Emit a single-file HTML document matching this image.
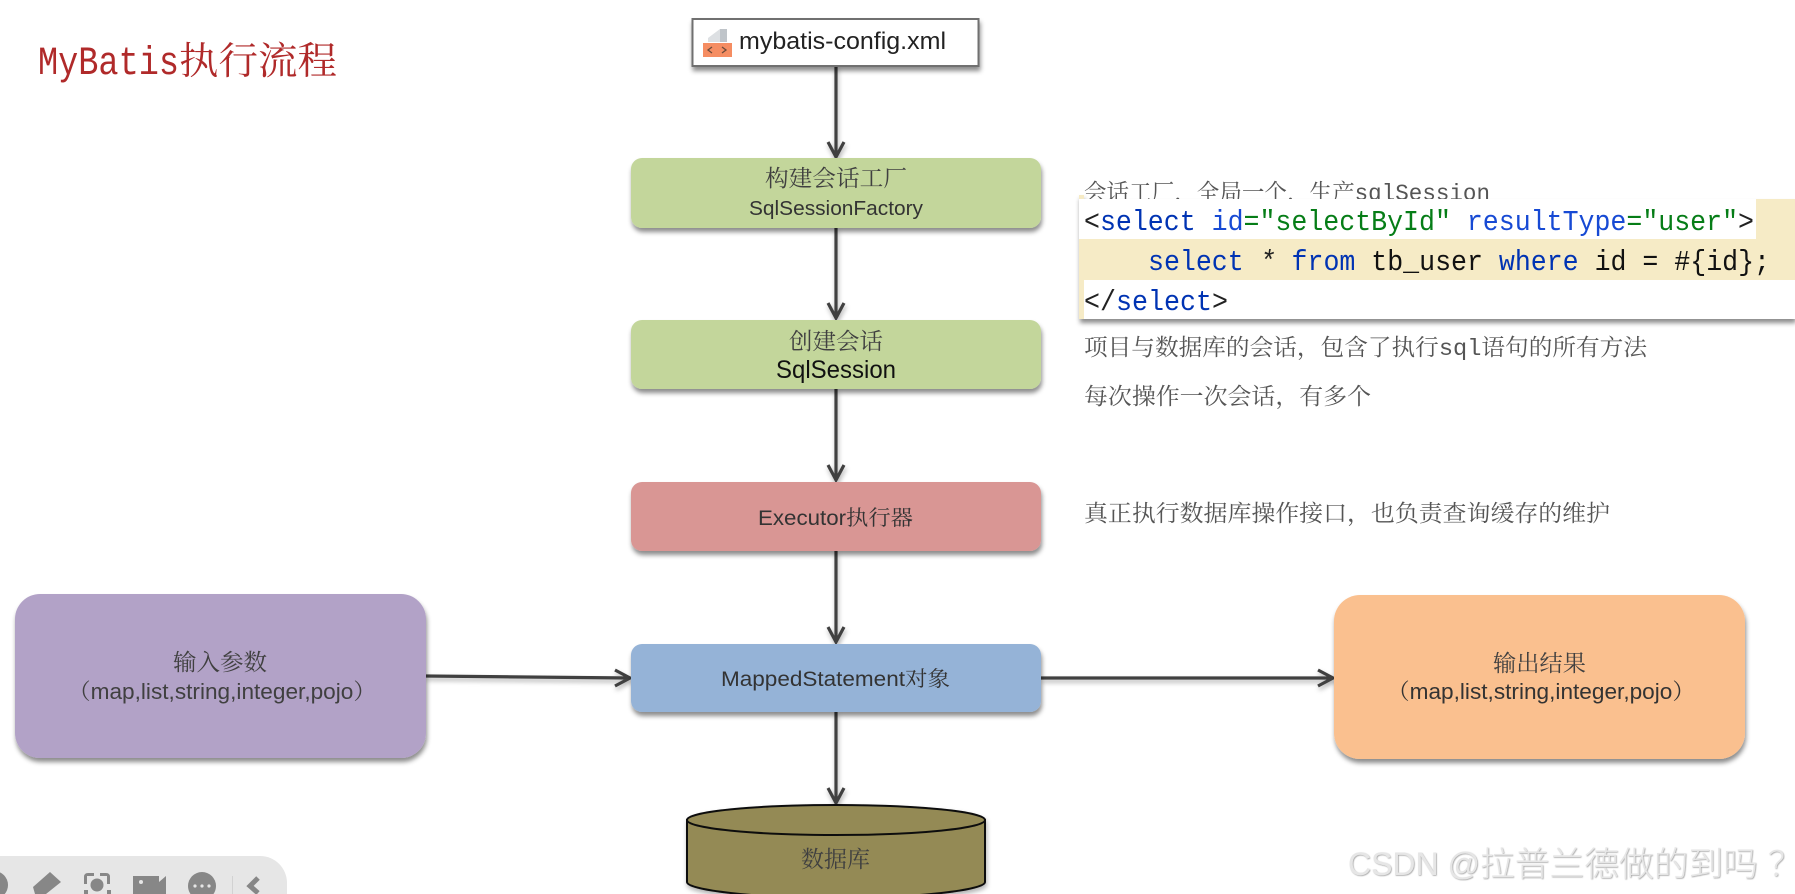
<!DOCTYPE html>
<html lang="zh">
<head>
<meta charset="utf-8">
<title>MyBatis执行流程</title>
<style>
html,body{margin:0;padding:0;background:#fff;width:1795px;height:894px;overflow:hidden}
svg{display:block}
.cjk{font-family:"Noto Serif CJK SC","Liberation Serif",serif;fill:#404040}
.sans{font-family:"Liberation Sans","Noto Serif CJK SC",sans-serif;fill:#333}
.note{font-family:"Liberation Mono","Noto Serif CJK SC",monospace;fill:#555;font-size:23px}
.code{font-family:"Liberation Mono",monospace;font-size:28.4px;white-space:pre}
.wm{font-family:"Liberation Sans","Noto Sans CJK SC",sans-serif;fill:#e6e6e6;font-weight:300}
</style>
</head>
<body>
<svg width="1795" height="894" viewBox="0 0 1795 894" xmlns="http://www.w3.org/2000/svg">
<defs>
<filter id="sh" x="-10%" y="-20%" width="120%" height="150%"><feDropShadow dx="1" dy="4" stdDeviation="2.4" flood-color="#000" flood-opacity=".45"/></filter>
<filter id="ls" x="-20%" y="-20%" width="140%" height="140%"><feDropShadow dx="1" dy="3" stdDeviation="2.4" flood-color="#000" flood-opacity=".3"/></filter>
<filter id="ws" x="-5%" y="-30%" width="110%" height="160%"><feDropShadow dx=".7" dy=".7" stdDeviation=".5" flood-color="#888" flood-opacity=".8"/></filter>
</defs>
<rect width="1795" height="894" fill="#fff"/>

<!-- title -->
<text x="38" y="74" font-size="40" textLength="141" lengthAdjust="spacingAndGlyphs" style="font-family:'Liberation Mono',monospace;fill:#b02a2a">MyBatis</text>
<text x="179" y="74" font-size="38" textLength="158" lengthAdjust="spacingAndGlyphs" style="font-family:'Noto Serif CJK SC',serif;fill:#b02a2a">执行流程</text>

<!-- connectors -->
<g fill="none" stroke="#404040" stroke-width="3.2" filter="url(#ls)">
<path d="M836 66V157M828 142L836 157L844 142"/>
<path d="M836 228V318M828 303L836 318L844 303"/>
<path d="M836 389V480M828 465L836 480L844 465"/>
<path d="M836 551V642M828 627L836 642L844 627"/>
<path d="M836 712V803M828 788L836 803L844 788"/>
<path d="M425 676L630 678M615 670L630 678L615 686"/>
<path d="M1041 678H1333M1318 670L1333 678L1318 686"/>
</g>

<!-- config file box -->
<rect x="692.5" y="19" width="286" height="47" fill="#fff" stroke="#6f6f6f" stroke-width="2" filter="url(#sh)"/>
<path d="M708 42V38L720 29H727V42Z" fill="#dde0e3"/>
<path d="M720 29H727V42H720Z" fill="#bfc4c9"/>
<rect x="703" y="43" width="29" height="14" fill="#f58d62"/>
<path d="M712 47L708 50L712 53M722 47L726 50L722 53" fill="none" stroke="#6b4a3a" stroke-width="1.3"/>
<text x="739" y="49" font-size="24" textLength="207" lengthAdjust="spacingAndGlyphs" style="font-family:'Liberation Sans',sans-serif;fill:#222">mybatis-config.xml</text>

<!-- flow boxes -->
<g filter="url(#sh)">
<rect x="631" y="158" width="410" height="70" rx="11" fill="#c3d69b"/>
<rect x="631" y="320" width="410" height="69" rx="11" fill="#c3d69b"/>
<rect x="631" y="482" width="410" height="69" rx="11" fill="#d99694"/>
<rect x="631" y="644" width="410" height="68" rx="11" fill="#95b3d7"/>
<rect x="15" y="594" width="411" height="164" rx="25" fill="#b2a2c7"/>
<rect x="1334" y="595" width="411" height="164" rx="26" fill="#fac08f"/>
</g>

<text class="cjk" x="765" y="186" font-size="23" textLength="142" lengthAdjust="spacingAndGlyphs">构建会话工厂</text>
<text class="sans" x="749" y="215" font-size="20" textLength="174" lengthAdjust="spacingAndGlyphs">SqlSessionFactory</text>
<text class="cjk" x="789" y="349" font-size="23" textLength="94" lengthAdjust="spacingAndGlyphs">创建会话</text>
<text class="sans" x="776" y="378" font-size="25" textLength="120" lengthAdjust="spacingAndGlyphs" style="fill:#111">SqlSession</text>
<text class="sans" x="758" y="525" font-size="21" textLength="155" lengthAdjust="spacingAndGlyphs">Executor执行器</text>
<text class="sans" x="721" y="686" font-size="21" textLength="229" lengthAdjust="spacingAndGlyphs">MappedStatement对象</text>

<text class="cjk" x="173" y="670" font-size="23" textLength="94" lengthAdjust="spacingAndGlyphs">输入参数</text>
<text class="sans" x="68" y="699" font-size="22" textLength="308" lengthAdjust="spacingAndGlyphs" style="fill:#404040">（map,list,string,integer,pojo）</text>
<text class="cjk" x="1493" y="671" font-size="23" textLength="93" lengthAdjust="spacingAndGlyphs">输出结果</text>
<text class="sans" x="1387" y="699" font-size="22" textLength="308" lengthAdjust="spacingAndGlyphs" style="fill:#333">（map,list,string,integer,pojo）</text>

<!-- database -->
<g filter="url(#ls)">
<path d="M687 820V882C687 890 754 898 836 898S985 890 985 882V820Z" fill="#948a54" stroke="#111" stroke-width="2"/>
<ellipse cx="836" cy="820" rx="149" ry="15" fill="#948a54" stroke="#111" stroke-width="2"/>
</g>
<text class="cjk" x="801" y="867" font-size="23" textLength="69" lengthAdjust="spacingAndGlyphs">数据库</text>

<!-- notes -->
<text class="note" x="1084" y="200" textLength="406" lengthAdjust="spacingAndGlyphs">会话工厂，全局一个，生产sqlSession</text>
<text class="note" x="1084" y="355" textLength="563" lengthAdjust="spacingAndGlyphs">项目与数据库的会话，包含了执行sql语句的所有方法</text>
<text class="note" x="1084" y="404" textLength="287" lengthAdjust="spacingAndGlyphs">每次操作一次会话，有多个</text>
<text class="note" x="1084" y="521" textLength="526" lengthAdjust="spacingAndGlyphs">真正执行数据库操作接口，也负责查询缓存的维护</text>

<!-- code overlay -->
<g filter="url(#sh)">
<path d="M1079 195H1084V199H1795V319H1079Z" fill="#f6ebc6"/>
</g>
<rect x="1079" y="199" width="677" height="40" fill="#fff"/>
<rect x="1084" y="280" width="711" height="39" fill="#fff"/>
<text class="code" x="1084" y="230" textLength="670" lengthAdjust="spacingAndGlyphs"><tspan fill="#222">&lt;</tspan><tspan fill="#0033b3">select</tspan><tspan> </tspan><tspan fill="#174ad4">id</tspan><tspan fill="#067d17">="selectById"</tspan><tspan> </tspan><tspan fill="#174ad4">resultType</tspan><tspan fill="#067d17">="user"</tspan><tspan fill="#222">&gt;</tspan></text>
<text class="code" x="1148" y="270" textLength="622" lengthAdjust="spacingAndGlyphs"><tspan fill="#0033b3">select</tspan><tspan> </tspan><tspan fill="#222" font-style="italic">*</tspan><tspan> </tspan><tspan fill="#0033b3">from</tspan><tspan fill="#111"> tb_user </tspan><tspan fill="#0033b3">where</tspan><tspan fill="#111"> id = #{id};</tspan></text>
<text class="code" x="1084" y="310" textLength="144" lengthAdjust="spacingAndGlyphs"><tspan fill="#222">&lt;/</tspan><tspan fill="#0033b3">select</tspan><tspan fill="#222">&gt;</tspan></text>

<!-- watermark -->
<g filter="url(#ws)">
<text class="wm" x="1348" y="875" font-size="32" textLength="132" lengthAdjust="spacingAndGlyphs">CSDN @</text>
<text class="wm" x="1480" y="876" font-size="34" textLength="278" lengthAdjust="spacingAndGlyphs">拉普兰德做的到吗</text>
<text class="wm" x="1768" y="876" font-size="34">？</text>
</g>

<!-- toolbar -->
<path d="M0 856H260A27 27 0 0 1 287 883V894H0Z" fill="#e6e6e6"/>
<g fill="#878787">
<circle cx="-6" cy="885" r="14"/>
<path d="M33 887L50 872L61 882L46 894H35Z"/>
<circle cx="97" cy="885" r="6.5"/>
<path d="M84 884V877Q84 873 88 873H94V876H87V884ZM110 884V877Q110 873 106 873H100V876H107V884Z"/>
<rect x="84" y="890" width="4" height="4"/><rect x="107" y="890" width="4" height="4"/>
<path d="M133 876H159V882L166 876V894H133Z"/>
<circle cx="202" cy="886" r="14"/>
<path d="M258 878L250 886L258 893" fill="none" stroke="#878787" stroke-width="5"/>
</g>
<circle cx="141" cy="882" r="2" fill="#e6e6e6"/>
<g fill="#e6e6e6"><circle cx="195" cy="886" r="1.6"/><circle cx="202" cy="886" r="1.6"/><circle cx="209" cy="886" r="1.6"/></g>
<rect x="232" y="876" width="1" height="18" fill="#d2d2d2"/>
</svg>
</body>
</html>
